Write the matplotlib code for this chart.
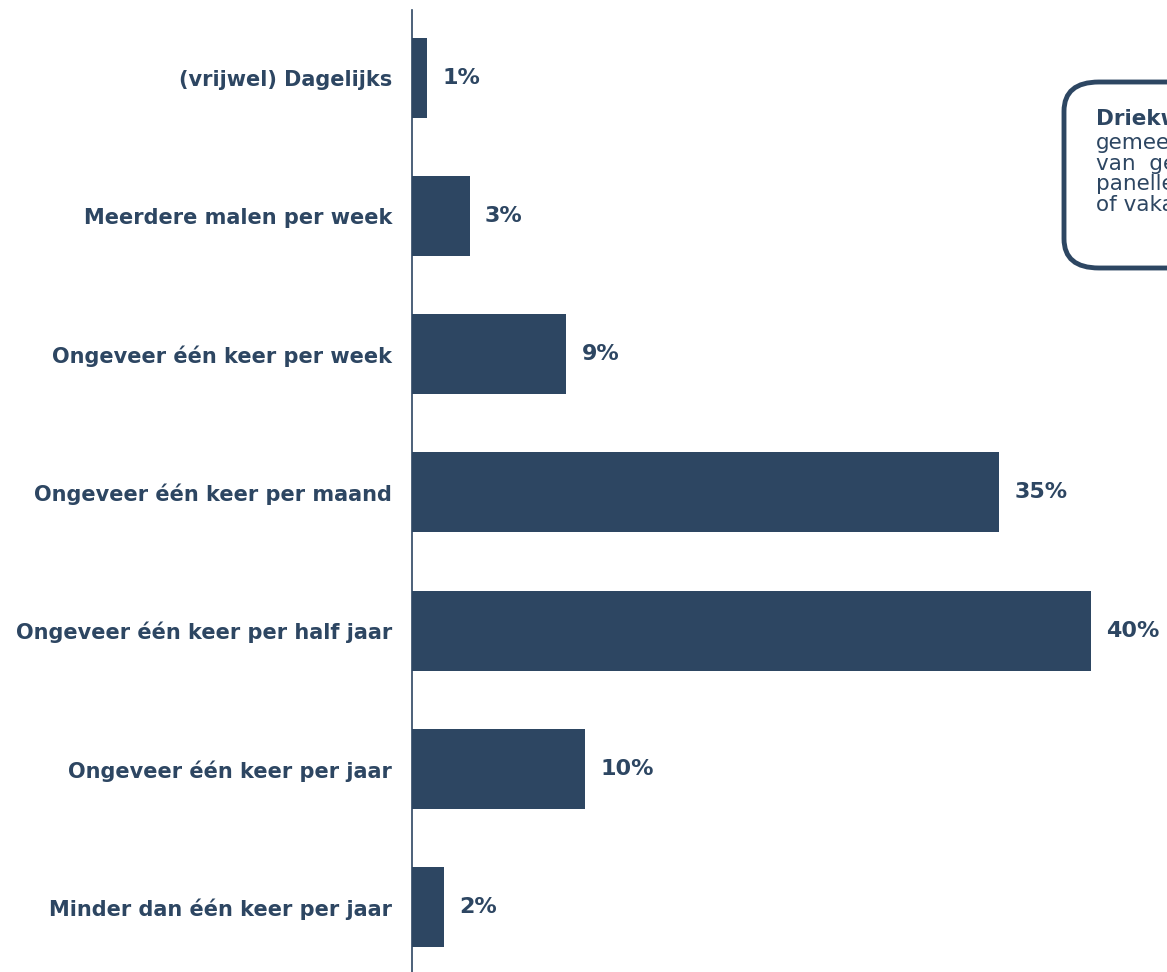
import matplotlib.pyplot as plt
from matplotlib.patches import FancyBboxPatch

# Data
categories = [
    '(vrijwel) Dagelijks',
    'Meerdere malen per week',
    'Ongeveer één keer per week',
    'Ongeveer één keer per maand',
    'Ongeveer één keer per half jaar',
    'Ongeveer één keer per jaar',
    'Minder dan één keer per jaar',
]
values = [0.9, 3.4, 9.1, 34.6, 40.0, 10.2, 1.9]
value_labels = ['1%', '3%', '9%', '35%', '40%', '10%', '2%']

navy = '#2d4662'
W, H = 1167, 972

fig = plt.figure(figsize=(W / 100, H / 100), dpi=100)
ax = fig.add_axes([412 / W, 0, 1 - 412 / W, 1 - 10 / H])

y = list(range(len(categories)))
ax.barh(y, values, height=0.58, color=navy)
ax.set_ylim(len(categories) - 1 + 0.47, -0.49)
ax.set_xlim(0, 44.5)

for yi, v, lab in zip(y, values, value_labels):
    ax.annotate(lab, (v, yi), xytext=(11, 0), textcoords='offset points',
                va='center', ha='left', fontsize=16, fontweight='bold',
                color=navy)

ax.set_yticks(y)
ax.set_yticklabels(categories, fontsize=15, fontweight='bold', color=navy)
ax.tick_params(axis='y', length=0, pad=14.4)
ax.set_xticks([])
for s in ['top', 'right', 'bottom']:
    ax.spines[s].set_visible(False)
ax.spines['left'].set_color(navy)
ax.spines['left'].set_linewidth(1.2)

# Callout box (cut off at the right edge, as in the original)
box = FancyBboxPatch((1064 / W, 1 - 268 / H), 200 / W, 186 / H,
                     boxstyle='round,pad=0,rounding_size=0.03',
                     transform=fig.transFigure, facecolor='white',
                     edgecolor=navy, linewidth=3.5, clip_on=False)
fig.patches.append(box)

fig.text(1096 / W, 1 - 119 / H, 'Driekwart', fontsize=15.5, fontweight='bold',
         color=navy, va='center', ha='left')
box_lines = ['gemeenten', 'van  gemeenten', 'panelleden', 'of vakantie']
for i, line in enumerate(box_lines):
    fig.text(1096 / W, 1 - (143 + i * 20.7) / H, line, fontsize=15.5,
             color=navy, va='center', ha='left')

fig.savefig('out.png', dpi=100)
